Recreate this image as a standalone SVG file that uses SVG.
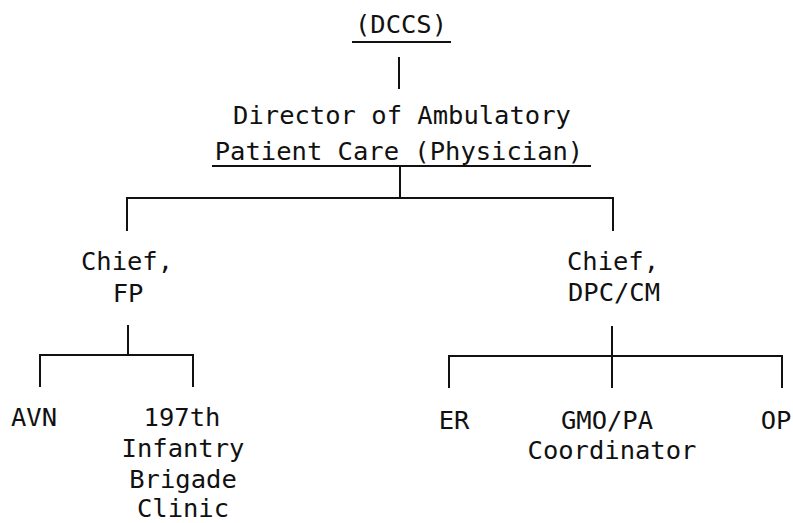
<svg xmlns="http://www.w3.org/2000/svg" width="793" height="523" viewBox="0 0 793 523">
  <style>
    text { font-family: "DejaVu Sans Mono", "Liberation Mono", monospace; font-size: 25.5px; fill: #111; text-anchor: middle; }
    .ln { stroke: #111; stroke-width: 2; fill: none; stroke-linecap: square; }
  </style>
  <rect width="793" height="523" fill="#fff"/>

  <!-- connectors -->
  <g id="connectors">
    <line class="ln" x1="353" y1="42" x2="450" y2="42"/>
    <line class="ln" x1="399" y1="58" x2="399" y2="88"/>
    <line class="ln" x1="213" y1="166" x2="590" y2="166"/>
    <line class="ln" x1="400" y1="168" x2="400" y2="198"/>
    <polyline class="ln" points="127,230 127,198 613,198 613,230"/>
    <line class="ln" x1="128" y1="326" x2="128" y2="355"/>
    <polyline class="ln" points="40,386 40,355 193,355 193,386"/>
    <line class="ln" x1="612" y1="327" x2="612" y2="387"/>
    <polyline class="ln" points="449,387 449,356 782,356 782,387"/>
  </g>

  <g id="dccs"><text x="401" y="33">(DCCS)</text></g>
  <g id="director">
    <text x="402" y="124">Director of Ambulatory</text>
    <text x="399" y="160">Patient Care (Physician)</text>
  </g>
  <g id="chief-fp">
    <text x="127" y="270">Chief,</text>
    <text x="128" y="302">FP</text>
  </g>
  <g id="chief-dpc">
    <text x="613" y="270">Chief,</text>
    <text x="614" y="301">DPC/CM</text>
  </g>
  <g id="avn"><text x="34" y="426">AVN</text></g>
  <g id="brigade-clinic">
    <text x="182" y="426">197th</text>
    <text x="183" y="457">Infantry</text>
    <text x="183" y="488">Brigade</text>
    <text x="183" y="517">Clinic</text>
  </g>
  <g id="er"><text x="454" y="429">ER</text></g>
  <g id="gmo-pa">
    <text x="607" y="429">GMO/PA</text>
    <text x="612" y="459">Coordinator</text>
  </g>
  <g id="op"><text x="776" y="429">OP</text></g>
</svg>
